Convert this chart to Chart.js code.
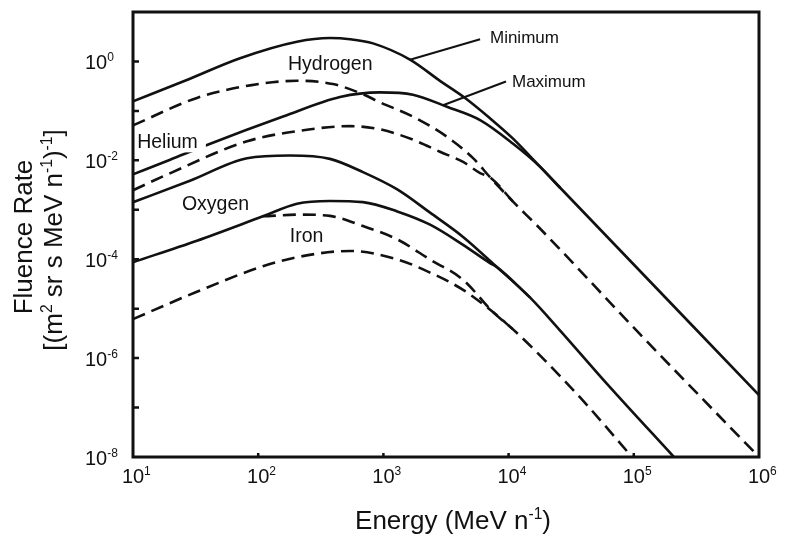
<!DOCTYPE html>
<html>
<head>
<meta charset="utf-8">
<script src="https://cdn.jsdelivr.net/npm/chart.js@4.4.1/dist/chart.umd.min.js"></script>
<style>
  html, body { margin: 0; padding: 0; background: #fff; }
  #wrap { width: 785px; height: 540px; }
</style>
</head>
<body>
<div id="wrap"><canvas id="fluence" width="785" height="540"></canvas></div>
<script>
// Energy (MeV/n) and fluence rate, one pair of arrays per curve.
// Solid = solar minimum, dashed = solar maximum.
const hMinE = [10, 26.0, 71.6, 204, 374, 541, 826, 1630, 2830, 4490, 7100, 10800, 17800, 25800, 1e6];
const hMinF = [0.156, 0.406, 1.16, 2.50, 2.97, 2.82, 2.32, 1.09, 0.405, 0.182, 0.0710, 0.0278, 7.48e-3, 2.79e-3, 1.79e-7];

const hMaxE = [10, 32.4, 86.1, 204, 395, 687, 940, 1720, 3220, 5200, 7100, 10800, 17800, 112000, 1e6];
const hMaxF = [0.0509, 0.183, 0.328, 0.407, 0.349, 0.217, 0.149, 0.0766, 0.0299, 0.0111, 4.56e-3, 1.48e-3, 4.18e-4, 3.05e-6, 1.0e-8];

const heMinE = [10, 19.8, 39.0, 158, 450, 940, 1720, 3220, 5920, 10800, 17800, 25800];
const heMinF = [5.21e-3, 0.0103, 0.0205, 0.0767, 0.191, 0.237, 0.213, 0.121, 0.0650, 0.0219, 7.48e-3, 2.79e-3];

const heMaxE = [10, 18.7, 81.5, 216, 541, 940, 1720, 2830, 4330, 5920, 7100, 10800];
const heMaxF = [2.48e-3, 5.15e-3, 0.0243, 0.0397, 0.0492, 0.0424, 0.0262, 0.0149, 9.27e-3, 5.52e-3, 4.56e-3, 1.48e-3];

const oMinE = [10, 28.5, 81.5, 179, 374, 687, 1290, 2360, 4330, 8070, 14800, 25800, 61100, 209000];
const oMinF = [1.42e-3, 3.86e-3, 0.0110, 0.0125, 0.0107, 5.77e-3, 2.58e-3, 8.75e-4, 2.83e-4, 6.92e-5, 1.69e-5, 3.61e-6, 3.01e-7, 1.0e-8];

// the oxygen maximum curve only shows once it leaves the iron minimum line
const oMaxE = [109, 216, 374, 687, 1290, 2360, 4330, 7500, 10800, 17800, 39300, 96800];
const oMaxF = [7.38e-4, 7.98e-4, 7.53e-4, 4.68e-4, 2.52e-4, 9.82e-5, 3.83e-5, 8.55e-6, 3.85e-6, 1.135e-6, 1.38e-7, 1.0e-8];

const feMinE = [10, 32.4, 109, 204, 374, 687, 1290, 2360, 4330, 7100, 8070, 14800];
const feMinF = [8.69e-5, 2.37e-4, 7.38e-4, 1.33e-3, 1.51e-3, 1.43e-3, 9.27e-4, 5.00e-4, 1.95e-4, 8.36e-5, 6.92e-5, 1.69e-5];

const feMaxE = [10, 32.4, 109, 216, 541, 1290, 2360, 4330, 7500, 10800];
const feMaxF = [6.14e-6, 2.20e-5, 7.21e-5, 1.13e-4, 1.47e-4, 9.95e-5, 5.37e-5, 2.40e-5, 8.55e-6, 3.85e-6];

// axis decades
const xTickExps = [1, 2, 3, 4, 5, 6];
const yTickExps = [0, -2, -4, -6, -8];
const xMarkExps = [2, 3, 4, 5];
const yMarkExps = [0, -1, -2, -3, -4, -5, -6, -7];

// text on the plot, anchored in data coordinates (left edge, baseline)
const curveLabels = ['Hydrogen', 'Helium', 'Oxygen', 'Iron'];
const curveLabelE = [173, 10.8, 24.6, 179];
const curveLabelF = [0.682, 0.01746, 1.005e-3, 2.18e-4];

const phaseLabels = ['Minimum', 'Maximum'];
const phaseLabelE = [7100, 10640];
const phaseLabelF = [2.32, 0.298];
const leaderE = [[1630, 5920], [2990, 9530]];
const leaderF = [[1.086, 2.81], [0.13, 0.394]];

const INK = '#111';
const font = s => `${s}px "Liberation Sans", Arial, Helvetica, sans-serif`;

function curve(label, e, f, dashed) {
    return {
        label,
        data: e.map((v, i) => ({ x: v, y: f[i] })),
        borderColor: INK,
        borderWidth: 2.6,
        borderDash: dashed ? [13, 7] : [],
        pointRadius: 0,
        cubicInterpolationMode: 'monotone',
        fill: false
    };
}

// text with superscript pieces: parts = [[text, isSup], ...]
function drawRich(ctx, parts, x, y, size, align) {
    const sup = size * 0.6;
    let w = 0;
    parts.forEach(([t, s]) => { ctx.font = font(s ? sup : size); w += ctx.measureText(t).width; });
    let cx = align === 'center' ? x - w / 2 : x;
    parts.forEach(([t, s]) => {
        ctx.font = font(s ? sup : size);
        ctx.fillText(t, cx, s ? y - size * 0.38 : y);
        cx += ctx.measureText(t).width;
    });
}

const decorations = {
    id: 'decorations',
    afterDatasetsDraw(chart) {
        const { ctx, chartArea: a, scales } = chart;
        const px = v => scales.x.getPixelForValue(v);
        const py = v => scales.y.getPixelForValue(v);
        ctx.save();
        ctx.fillStyle = INK;
        ctx.strokeStyle = INK;
        ctx.textAlign = 'left';
        ctx.textBaseline = 'alphabetic';

        // curve names (the helium line breaks around its label)
        curveLabels.forEach((t, i) => {
            const x0 = px(curveLabelE[i]), y0 = py(curveLabelF[i]);
            ctx.font = font(19.5);
            if (t === 'Helium') {
                const w = ctx.measureText(t).width;
                ctx.fillStyle = '#fff';
                ctx.fillRect(x0 - 2, y0 - 17, w + 10, 21);
                ctx.fillStyle = INK;
            }
            ctx.fillText(t, x0, y0);
        });

        // Minimum / Maximum leaders
        ctx.lineWidth = 2;
        leaderE.forEach((e, i) => {
            ctx.beginPath();
            ctx.moveTo(px(e[0]), py(leaderF[i][0]));
            ctx.lineTo(px(e[1]), py(leaderF[i][1]));
            ctx.stroke();
        });
        phaseLabels.forEach((t, i) => {
            ctx.font = font(17);
            ctx.fillText(t, px(phaseLabelE[i]), py(phaseLabelF[i]));
        });

        // frame and inward ticks
        ctx.lineWidth = 3;
        ctx.strokeRect(a.left, a.top, a.right - a.left, a.bottom - a.top);
        ctx.lineWidth = 2.5;
        ctx.beginPath();
        yMarkExps.forEach(e => {
            const y = py(Math.pow(10, e));
            ctx.moveTo(a.left, y);
            ctx.lineTo(a.left + 6, y);
        });
        xMarkExps.forEach(e => {
            const x = px(Math.pow(10, e));
            ctx.moveTo(x, a.bottom);
            ctx.lineTo(x, a.bottom - 4);
        });
        ctx.stroke();

        // tick labels
        yTickExps.forEach(e => {
            drawRich(ctx, [['10'], [String(e), true]], 85, py(Math.pow(10, e)) + 7.5, 20, 'left');
        });
        xTickExps.forEach(e => {
            ctx.font = font(20);
            const w = ctx.measureText('10').width;
            drawRich(ctx, [['10'], [String(e), true]], px(Math.pow(10, e)) - w / 2, 483, 20, 'left');
        });

        // axis titles
        drawRich(ctx, [['Energy (MeV n'], ['-1', true], [')']], 453, 529, 26, 'center');
        ctx.save();
        ctx.translate(32, 237);
        ctx.rotate(-Math.PI / 2);
        drawRich(ctx, [['Fluence Rate']], 0, 0, 26, 'center');
        ctx.restore();
        ctx.save();
        ctx.translate(62, 240);
        ctx.rotate(-Math.PI / 2);
        drawRich(ctx, [['[(m'], ['2', true], [' sr s MeV n'], ['-1', true], [')'], ['-1', true], [']']], 0, 0, 26, 'center');
        ctx.restore();

        ctx.restore();
    }
};

new Chart(document.getElementById('fluence'), {
    type: 'line',
    data: {
        datasets: [
            curve('Hydrogen min', hMinE, hMinF, false),
            curve('Hydrogen max', hMaxE, hMaxF, true),
            curve('Helium min', heMinE, heMinF, false),
            curve('Helium max', heMaxE, heMaxF, true),
            curve('Oxygen min', oMinE, oMinF, false),
            curve('Oxygen max', oMaxE, oMaxF, true),
            curve('Iron min', feMinE, feMinF, false),
            curve('Iron max', feMaxE, feMaxF, true)
        ]
    },
    options: {
        responsive: false,
        animation: false,
        events: [],
        layout: { padding: { left: 133, right: 26, top: 12, bottom: 83 } },
        scales: {
            x: { type: 'logarithmic', min: 10, max: 1e6, display: false },
            y: { type: 'logarithmic', min: 1e-8, max: 10, display: false }
        },
        plugins: {
            legend: { display: false },
            tooltip: { enabled: false }
        },
        elements: {
            point: { radius: 0 },
            line: { borderJoinStyle: 'round' }
        }
    },
    plugins: [decorations]
});
</script>
</body>
</html>
